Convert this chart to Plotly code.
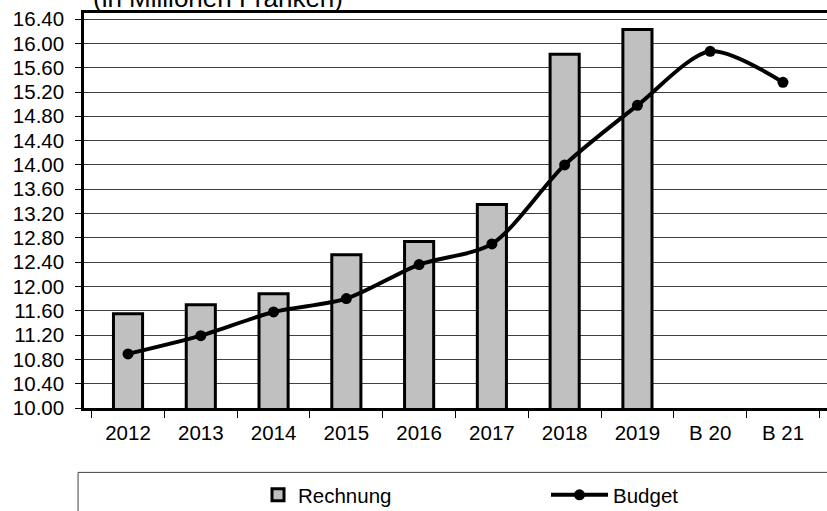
import plotly.graph_objects as go

categories = ['2012', '2013', '2014', '2015', '2016', '2017', '2018', '2019', 'B 20', 'B 21']
rechnung = [11.55, 11.70, 11.88, 12.52, 12.74, 13.35, 15.82, 16.23, None, None]
budget = [10.89, 11.19, 11.58, 11.80, 12.36, 12.70, 14.00, 14.98, 15.87, 15.36]
title_text = '(in Millionen Franken)'

FONT = 'Arial, Liberation Sans, sans-serif'
W, H = 827, 511
IW1 = 30
IW2 = 57

fig = go.Figure()
fig.add_trace(go.Bar(
    x=categories, y=rechnung, name='Rechnung', legend='legend',
    marker=dict(color='#C0C0C0', line=dict(color='black', width=3)),
))
fig.add_trace(go.Scatter(
    x=categories, y=budget, name='Budget', mode='lines+markers', legend='legend2',
    line=dict(color='black', width=4, shape='spline', smoothing=0.8),
    marker=dict(color='black', size=11),
))

legend_common = dict(orientation='h', xref='container', yref='container', xanchor='left',
                     yanchor='middle', y=1 - 495 / H, font=dict(size=20.5),
                     bgcolor='rgba(0,0,0,0)', borderwidth=0)

fig.update_layout(
    width=W, height=H,
    margin=dict(l=84, r=0, t=13, b=103, autoexpand=False),
    paper_bgcolor='white', plot_bgcolor='white',
    font=dict(family=FONT, size=20.5, color='black'),
    bargap=0.6,
    showlegend=True,
    legend=dict(x=(298 - IW1 - 10) / W, itemwidth=IW1, **legend_common),
    legend2=dict(x=(613 - IW2 - 10) / W, itemwidth=IW2, **legend_common),
)
fig.update_xaxes(
    type='category', showline=True, linecolor='black', linewidth=2.5, mirror=True,
    ticks='outside', tickson='boundaries', ticklen=7, tickcolor='black', tickwidth=1,
    showgrid=False, ticklabelstandoff=5, automargin=False,
)
fig.update_yaxes(
    range=[10, 16.5], tick0=10, dtick=0.4, tickformat='.2f',
    showline=True, linecolor='black', linewidth=2.5,
    ticks='outside', ticklen=6, tickcolor='black', tickwidth=1,
    showgrid=True, gridcolor='#404040', gridwidth=1, zeroline=False,
    ticklabelstandoff=7, automargin=False,
)
fig.add_annotation(text=title_text, xref='paper', yref='paper', x=0.18, y=1,
                   xanchor='center', yanchor='bottom', showarrow=False, yshift=-2,
                   font=dict(size=26, family=FONT, color='black'))
fig.add_shape(type='rect', xref='paper', yref='paper', x0=-0.008, x1=1.02, y0=-0.3, y1=-0.163,
              line=dict(color='#404040', width=1), fillcolor='rgba(0,0,0,0)', layer='below')

fig.write_html('out.html', config={'displayModeBar': False},
               post_script="document.body.style.margin='0';document.body.style.overflow='hidden';")
